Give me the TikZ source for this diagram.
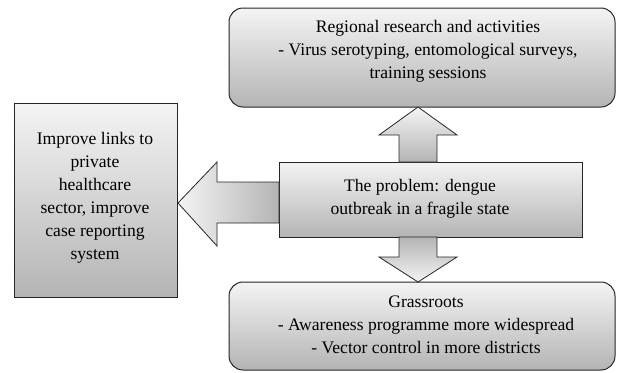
\documentclass[tikz,border=0pt]{standalone}
\usepackage{fontspec}
\setmainfont{Liberation Serif}
\usetikzlibrary{calc}
\definecolor{lite}{HTML}{F4F4F4}
\definecolor{dark}{HTML}{B4B4B4}
\tikzset{
  box/.style={draw=black!85, line width=1pt, top color=lite, bottom color=dark},
  rbox/.style={box, rounded corners=14pt},
  txt/.style={align=center, font=\fontsize{17.6}{23}\selectfont, inner sep=0pt},
  barrow/.style={draw=black!85, line width=0.8pt, line join=miter}
}
\begin{document}
\begin{tikzpicture}[x=1pt,y=-1pt]
\useasboundingbox (0,0) rectangle (617,372);
% boxes
\path[rbox] (229,8) rectangle (615,107);
\coordinate (topS) at (418,107);
\node[txt] (top) at (428,51) {Regional research and activities\\- Virus serotyping, entomological surveys,\\training sessions};
\path[box] (14,103) rectangle (177,297);
\node[txt] (left) at (95,198) {Improve links to\\private\\healthcare\\sector, improve\\case reporting\\system};
\path[box] (279,162) rectangle (582,237);
\node[txt] (mid) at (420,199) {The problem: dengue\\outbreak in a fragile state};
\path[rbox] (229,282) rectangle (615,370);
\node[txt] (bot) at (426,325) {Grassroots\\- Awareness programme more widespread\\- Vector control in more districts};
% block arrows
\coordinate (midT) at (418,162);
\coordinate (midB) at (418,237);
\coordinate (botN) at (418,282);
\coordinate (midL) at (279,203);
\coordinate (leftE) at (178,203);
% up
\path[barrow, top color=lite, bottom color=dark]
  (topS) -- ++(39,28) -- ++(-20,0) |- (midT) -| ($(topS)+(-19,28)$) -- ++(-20,0) -- cycle;
% down
\path[barrow, top color=dark, bottom color=lite]
  (botN) -- ++(39,-25) -- ++(-20,0) |- (midB) -| ($(botN)+(-19,-25)$) -- ++(-20,0) -- cycle;
% left
\path[barrow, left color=lite, right color=dark]
  (leftE) -- ++(39,-41) -- ++(0,20) -| (midL) |- ($(leftE)+(39,20)$) -- ++(0,23) -- cycle;
\end{tikzpicture}
\end{document}
